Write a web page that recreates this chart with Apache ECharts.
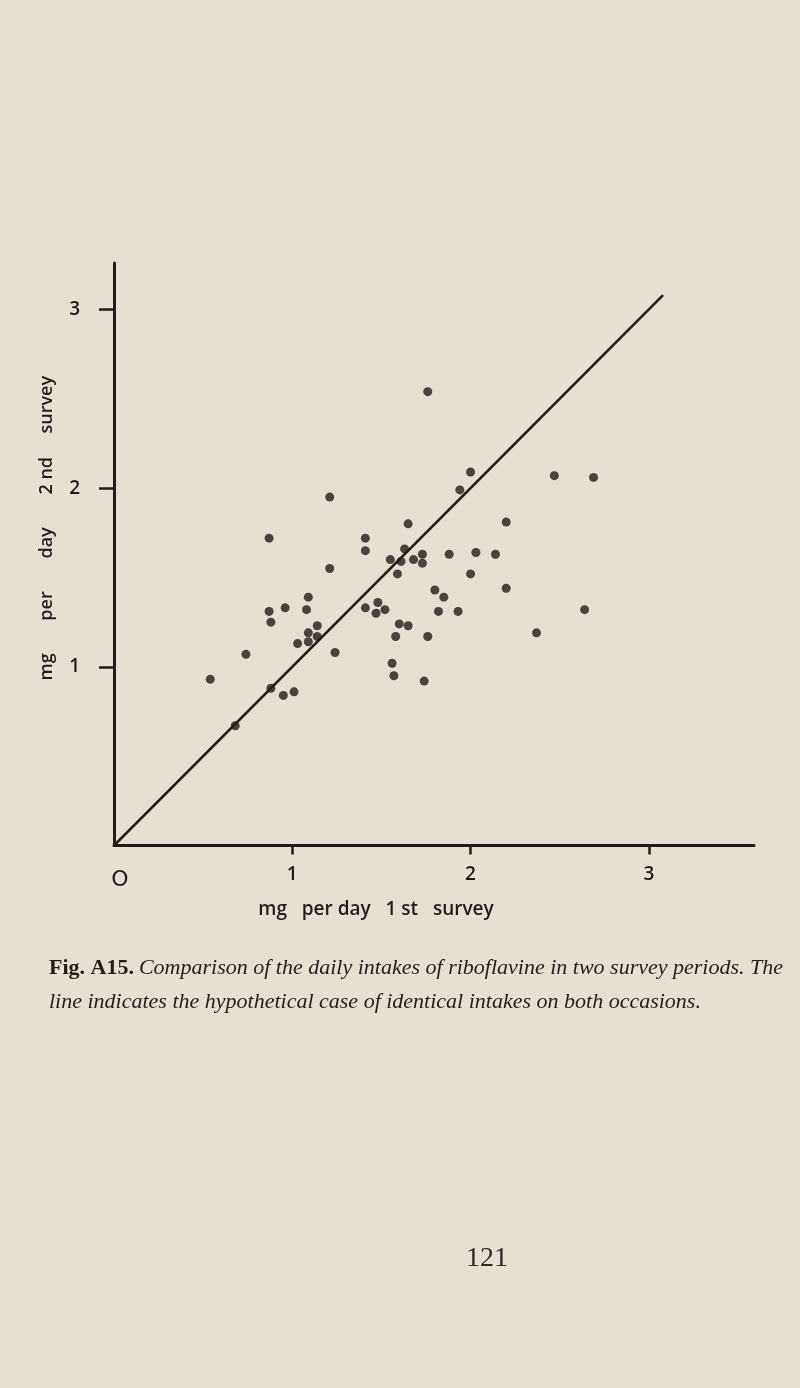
<!DOCTYPE html>
<html>
<head>
<meta charset="utf-8">
<script src="https://cdn.jsdelivr.net/npm/echarts@6/dist/echarts.min.js"></script>
<style>
html,body{margin:0;padding:0;background:#e6dfd2;}
#chart{width:800px;height:1388px;}
</style>
</head>
<body>
<div id="chart"></div>
<script>
// mg per day, 1st survey (x) and 2nd survey (y)
const firstSurvey = [1.76,2.00,1.94,1.21,1.65,0.87,1.41,1.41,1.63,1.73,1.55,1.61,1.68,1.73,1.88,2.03,2.14,1.59,1.21,2.00,1.80,1.85,1.09,0.96,0.87,1.08,0.88,1.41,1.48,1.47,1.52,1.82,1.93,1.14,1.09,1.14,1.09,1.03,1.60,1.65,1.58,1.76,1.24,0.74,1.56,1.57,1.74,0.54,0.88,0.95,1.01,0.68,2.47,2.69,2.20,2.20,2.64,2.37];
const secondSurvey = [2.54,2.09,1.99,1.95,1.80,1.72,1.72,1.65,1.66,1.63,1.60,1.59,1.60,1.58,1.63,1.64,1.63,1.52,1.55,1.52,1.43,1.39,1.39,1.33,1.31,1.32,1.25,1.33,1.36,1.30,1.32,1.31,1.31,1.23,1.19,1.17,1.14,1.13,1.24,1.23,1.17,1.17,1.08,1.07,1.02,0.95,0.92,0.93,0.88,0.84,0.86,0.67,2.07,2.06,1.81,1.44,1.32,1.19];
// line of identical intakes
const identityLine = [0, 3.08];
const xTickValues = [1, 2, 3];
const xLabelValues = [0, 1, 2, 3];
const yTickValues = [1, 2, 3];
const xAxisTitle = 'mg   per day   1 st   survey';
const yAxisTitle = 'mg       per       day       2 nd     survey';
const captionBold = 'Fig. A15.';
const captionLine1 = 'Comparison of the daily intakes of riboflavine in two survey periods. The';
const captionLine2 = 'line indicates the hypothetical case of identical intakes on both occasions.';
const pageNumber = '121';

const ink = '#221c19';
const points = firstSurvey.map((v, i) => [v, secondSurvey[i]]);
const linePts = identityLine.map(v => [v, v]);

const chart = echarts.init(document.getElementById('chart'), null, {renderer: 'canvas'});
chart.setOption({
  backgroundColor: '#e6dfd2',
  animation: false,
  title: [
    {
      text: '{b|' + captionBold + '} {i|' + captionLine1 + '}\n{i|' + captionLine2 + '}',
      left: 44, top: 946,
      textStyle: {
        rich: {
          b: {fontFamily: 'Liberation Serif', fontWeight: 'bold', fontStyle: 'normal', fontSize: 22, color: '#231d1a', lineHeight: 34},
          i: {fontFamily: 'Liberation Serif', fontWeight: 'normal', fontStyle: 'italic', fontSize: 22, color: '#231d1a', lineHeight: 34}
        }
      }
    },
    {
      text: pageNumber, left: 461, top: 1240,
      textStyle: {fontFamily: 'Liberation Serif', fontWeight: 'normal', fontSize: 28, color: '#2e2825'}
    }
  ],
  grid: {left: 114, top: 263, width: 640, height: 582.5, containLabel: false},
  xAxis: {
    type: 'value', min: 0, max: 3.59,
    splitLine: {show: false},
    axisLine: {show: true, onZero: false, lineStyle: {color: ink, width: 3}},
    axisTick: {show: true, customValues: xTickValues, length: 9, inside: false, lineStyle: {color: ink, width: 2.5}},
    axisLabel: {
      show: true, customValues: xLabelValues, margin: 20,
      fontFamily: 'Open Sans', fontWeight: 600, fontSize: 19, color: ink,
      formatter: v => v === 0 ? '{z|O}' : String(v),
      rich: {z: {fontFamily: 'DejaVu Sans', fontWeight: 'normal', fontSize: 22, color: ink, padding: [4, 0, 0, 12]}}
    },
    name: xAxisTitle, nameLocation: 'middle', nameGap: 55,
    nameTextStyle: {fontFamily: 'Open Sans', fontWeight: 600, fontSize: 19, color: ink, padding: [0, 116, 0, 0]}
  },
  yAxis: {
    type: 'value', min: 0, max: 3.26,
    splitLine: {show: false},
    axisLine: {show: true, onZero: false, lineStyle: {color: ink, width: 3}},
    axisTick: {show: true, customValues: yTickValues, length: 15, inside: false, lineStyle: {color: ink, width: 2.5}},
    axisLabel: {
      show: true, customValues: yTickValues, margin: 34,
      fontFamily: 'Open Sans', fontWeight: 600, fontSize: 19, color: ink
    },
    name: yAxisTitle, nameLocation: 'middle', nameGap: 58,
    nameTextStyle: {fontFamily: 'Open Sans', fontWeight: 600, fontSize: 18, color: ink, padding: [0, 0, 0, 52]}
  },
  series: [
    {
      type: 'line', data: linePts, symbol: 'none', silent: true, z: 2,
      lineStyle: {color: ink, width: 2.5}
    },
    {
      type: 'scatter', data: points, symbol: 'circle', symbolSize: 9, z: 3,
      itemStyle: {color: ink}
    }
  ]
});
</script>
</body>
</html>
